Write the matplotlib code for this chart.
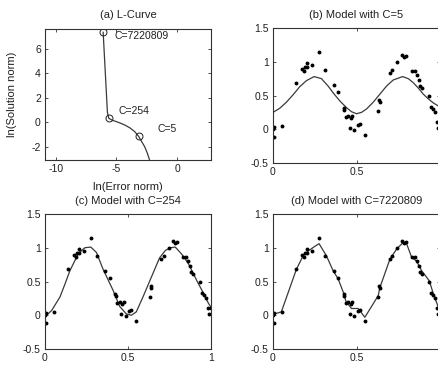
import matplotlib
matplotlib.use("Agg")
import matplotlib.pyplot as plt
from matplotlib.ticker import FormatStrFormatter

plt.rcParams['font.family'] = ['Liberation Sans', 'DejaVu Sans']
plt.rcParams['axes.unicode_minus'] = False

# L-curve (ln error norm vs ln solution norm)
err_norm = [-6.10, -5.75, -5.68, -5.63, -5.35, -4.75, -4.30, -3.90, -3.50, -3.17,
            -2.95, -2.68, -2.45, -2.27, -2.20]
sol_norm = [7.33, 0.80, 0.50, 0.30, 0.15, -0.06, -0.25, -0.47, -0.78, -1.17,
            -1.55, -2.00, -2.55, -3.10, -3.40]
c_labels = ["C=7220809", "C=254", "C=5"]
c_err = [-6.10, -5.63, -3.17]
c_sol = [7.33, 0.30, -1.17]
lbl_x = [-5.15, -4.8, -1.65]
lbl_y = [7.05, 0.92, -0.60]

# noisy data points (same in b, c, d)
data_x = [0.0, 0.006, 0.006, 0.052, 0.14, 0.176, 0.184, 0.19, 0.204, 0.204,
          0.236, 0.276, 0.314, 0.364, 0.39, 0.424, 0.426, 0.436, 0.45, 0.466,
          0.46, 0.476, 0.486, 0.506, 0.52, 0.548, 0.63, 0.636, 0.64, 0.70,
          0.714, 0.744, 0.77, 0.784, 0.794, 0.83, 0.85, 0.86, 0.874, 0.88,
          0.89, 0.936, 0.944, 0.96, 0.97, 0.984, 0.99, 0.998]
data_y = [0.0, 0.035, -0.11, 0.05, 0.68, 0.90, 0.87, 0.92, 0.98, 0.92,
          0.95, 1.14, 0.88, 0.65, 0.55, 0.31, 0.29, 0.18, 0.20, 0.17,
          0.02, 0.20, -0.01, 0.07, 0.085, -0.09, 0.27, 0.43, 0.41, 0.83,
          0.88, 0.99, 1.10, 1.07, 1.09, 0.86, 0.87, 0.81, 0.73, 0.64,
          0.61, 0.50, 0.33, 0.30, 0.25, 0.11, 0.015, 0.11]

# fitted models
m5_x = [0.0, 0.04, 0.08, 0.12, 0.16, 0.20, 0.246, 0.29, 0.33, 0.36, 0.40,
        0.44, 0.47, 0.50, 0.53, 0.56, 0.60, 0.64, 0.68, 0.72, 0.776,
        0.81, 0.84, 0.87, 0.90, 0.93, 0.96, 1.0]
m5_y = [0.25, 0.31, 0.40, 0.51, 0.63, 0.72, 0.78, 0.75, 0.64, 0.54, 0.42,
        0.32, 0.26, 0.23, 0.25, 0.30, 0.40, 0.52, 0.64, 0.73, 0.78,
        0.75, 0.69, 0.61, 0.52, 0.45, 0.39, 0.33]

m254_x = [0.0, 0.04, 0.09, 0.12, 0.15, 0.20, 0.24, 0.276, 0.31, 0.35, 0.41,
          0.45, 0.49, 0.52, 0.55, 0.59, 0.64, 0.69, 0.725, 0.755, 0.785,
          0.825, 0.865, 0.915, 0.956, 0.986, 1.0]
m254_y = [-0.02, 0.07, 0.27, 0.46, 0.66, 0.91, 1.00, 1.01, 0.93, 0.68, 0.37,
          0.13, 0.02, 0.00, 0.05, 0.27, 0.56, 0.85, 0.96, 1.00, 1.01,
          0.90, 0.76, 0.51, 0.32, 0.17, 0.12]

mbig_x = [0.0, 0.01, 0.05, 0.14, 0.18, 0.21, 0.25, 0.276, 0.32, 0.36, 0.39,
          0.424, 0.436, 0.47, 0.51, 0.55, 0.63, 0.64, 0.70, 0.74, 0.776,
          0.80, 0.83, 0.86, 0.89, 0.936, 0.96, 0.99, 1.0]
mbig_y = [0.0, 0.02, 0.05, 0.68, 0.88, 0.95, 1.02, 1.06, 0.88, 0.66, 0.54,
          0.32, 0.21, 0.10, 0.10, -0.03, 0.29, 0.41, 0.83, 0.98, 1.07,
          1.06, 0.86, 0.80, 0.66, 0.51, 0.32, 0.12, 0.10]

W, H = 439, 365
fig = plt.figure(figsize=(W / 100, H / 100), dpi=100)

line_c = '#3a3a3a'
spine_c = '#333333'
fs = 7.5


def box(left, top, right, bottom):
    return [left / W, 1 - bottom / H, (right - left) / W, (bottom - top) / H]


def style(ax):
    for s in ax.spines.values():
        s.set_color(spine_c)
        s.set_linewidth(0.8)
    ax.tick_params(direction='in', length=2, width=0.6, colors=spine_c,
                   labelcolor='#202020', labelsize=fs, pad=3,
                   top=True, right=True)


def title(ax, txt, y):
    ax.text(0.5, y, txt, transform=ax.transAxes, ha='center', va='center',
            fontsize=fs + 0.5, color='#202020')


# (a) L-curve
ax = fig.add_axes(box(45, 29, 211, 160))
ax.plot(err_norm, sol_norm, color=line_c, lw=0.9)
ax.plot(c_err, c_sol, 'o', ms=5, mfc='none', mec='#202020', mew=0.7)
for t, x, y in zip(c_labels, lbl_x, lbl_y):
    ax.text(x, y, t, fontsize=fs, color='#202020', va='center', ha='left')
ax.set_xlim(-10.9, 2.8)
ax.set_ylim(-3.1, 7.6)
ax.set_xticks([-10, -5, 0])
ax.set_yticks([-2, 0, 2, 4, 6])
style(ax)
ax.set_xlabel("ln(Error norm)", fontsize=fs + 0.5, color='#202020')
ax.set_ylabel("ln(Solution norm)", fontsize=fs + 0.5, color='#202020')
ax.xaxis.set_label_coords(0.5, -0.165)
ax.yaxis.set_label_coords(-0.17, 0.5)
title(ax, "(a) L-Curve", 1.107)

panels = [
    (box(273, 28, 440, 163), m5_x, m5_y, "(b) Model with C=5"),
    (box(45, 214, 211, 349), m254_x, m254_y, "(c) Model with C=254"),
    (box(273, 214, 440, 349), mbig_x, mbig_y, "(d) Model with C=7220809"),
]
for rect, mx, my, ttl in panels:
    ax = fig.add_axes(rect)
    ax.plot(mx, my, color=line_c, lw=0.9)
    ax.plot(data_x, data_y, 'o', ms=2.8, color='black', mew=0)
    ax.set_xlim(0, 1)
    ax.set_ylim(-0.5, 1.5)
    ax.set_xticks([0, 0.5, 1])
    ax.set_yticks([-0.5, 0, 0.5, 1, 1.5])
    ax.xaxis.set_major_formatter(FormatStrFormatter('%g'))
    ax.yaxis.set_major_formatter(FormatStrFormatter('%g'))
    style(ax)
    title(ax, ttl, 1.096)

fig.savefig("out.png", dpi=100, facecolor='white')
